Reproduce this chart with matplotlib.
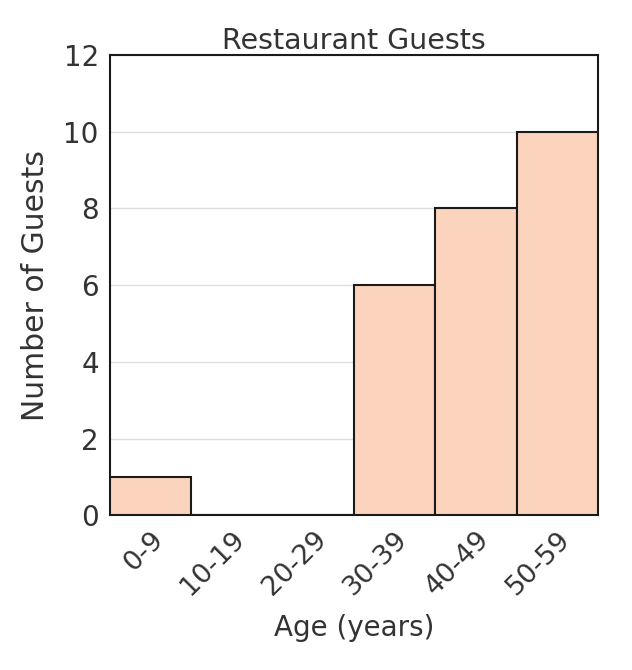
import matplotlib.pyplot as plt

# restaurant guests by age group
age_groups = ['0-9', '10-19', '20-29', '30-39', '40-49', '50-59']
guests = [1, 0, 0, 6, 8, 10]
y_ticks = [0, 2, 4, 6, 8, 10, 12]

fig = plt.figure(figsize=(6.32, 6.70), dpi=100)
ax = fig.add_axes([0.174, 0.231, 0.772, 0.687])

ax.bar(range(len(age_groups)), guests, width=1.0, align='edge',
       color='#fcd3bd', edgecolor='#1a1a1a', linewidth=1.5, zorder=3)

ax.set_xlim(0, len(age_groups))
ax.set_ylim(0, 12)
ax.set_yticks(y_ticks)
ax.set_xticks([i + 0.5 for i in range(len(age_groups))])
ax.set_xticklabels(age_groups, rotation=45, ha='right', rotation_mode='anchor',
                   fontsize=19.5, color='#333333')
ax.tick_params(axis='y', labelsize=20, length=0, pad=8, labelcolor='#333333')
ax.tick_params(axis='x', length=0, pad=8)
ax.grid(axis='y', color='#dddddd', linewidth=1, zorder=0)

for s in ax.spines.values():
    s.set_linewidth(1.5)
    s.set_color('#1a1a1a')

ax.set_title('Restaurant Guests', fontsize=20.5, color='#333333', pad=4)
ax.set_xlabel('Age (years)', fontsize=20, color='#333333', labelpad=10)
ax.set_ylabel('Number of Guests', fontsize=21.5, color='#333333', labelpad=10)

fig.savefig('out.png', dpi=100)
